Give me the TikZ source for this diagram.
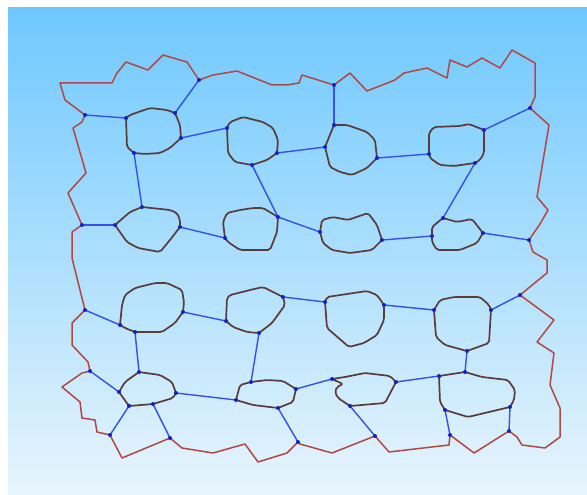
\documentclass[tikz,border=0pt]{standalone}
\usetikzlibrary{calc}
\definecolor{bgtop}{RGB}{110,200,254}
\definecolor{bgbot}{RGB}{232,245,253}
\definecolor{bnd}{RGB}{180,70,70}
\definecolor{cellc}{RGB}{90,58,58}
\definecolor{edgec}{RGB}{55,80,235}
\definecolor{dotc}{RGB}{20,35,200}
\tikzset{
  boundary/.style={draw=bnd, line width=1.5pt, line join=round},
  cellline/.style={draw=cellc, line width=1.7pt, line join=round, rounded corners=2pt},
  edgeline/.style={draw=edgec, line width=1.4pt},
  junction/.style={fill=dotc}
}
\begin{document}
\begin{tikzpicture}[x=1pt,y=-1pt]
\useasboundingbox (0,0) rectangle (587,495);
\fill[white] (0,0) rectangle (587,495);
\shade[top color=bgtop, bottom color=bgbot] (8,8) rectangle (587,495);

% boundary junctions
\coordinate (b1) at (85,115);
\coordinate (b2) at (199,80);
\coordinate (b3) at (334,85);
\coordinate (b4) at (530,108);
\coordinate (b5) at (82,225);
\coordinate (b6) at (529,240);
\coordinate (b7) at (85,310);
\coordinate (b8) at (520,295);
\coordinate (b9) at (90,371);
\coordinate (b10) at (110,435);
\coordinate (b11) at (170,438);
\coordinate (b12) at (298,442);
\coordinate (b13) at (375,436);
\coordinate (b14) at (450,435);
\coordinate (b15) at (509,431);
% cell junctions
\coordinate (a1) at (126,118); \coordinate (a2) at (175,113); \coordinate (a3) at (181,138); \coordinate (a4) at (134,153);
\coordinate (bb1) at (227,128); \coordinate (bb2) at (277,153); \coordinate (bb3) at (252,165);
\coordinate (c1) at (334,125); \coordinate (c2) at (325,147); \coordinate (c3) at (377,158);
\coordinate (d1) at (429,154); \coordinate (d2) at (484,130); \coordinate (d3) at (475,163);
\coordinate (e1) at (115,225); \coordinate (e2) at (142,207); \coordinate (e3) at (180,227);
\coordinate (f1) at (225,238); \coordinate (f2) at (278,217);
\coordinate (g1) at (320,232); \coordinate (g2) at (382,240);
\coordinate (h1) at (432,236); \coordinate (h2) at (443,218); \coordinate (h3) at (483,233);
\coordinate (i1) at (120,325); \coordinate (i2) at (183,312); \coordinate (i3) at (135,332);
\coordinate (j1) at (226,321); \coordinate (j2) at (283,297); \coordinate (j3) at (259,333);
\coordinate (k1) at (325,302); \coordinate (k2) at (384,305);
\coordinate (l1) at (434,310); \coordinate (l2) at (491,310); \coordinate (l3) at (467,351);
\coordinate (m1) at (119,392); \coordinate (m2) at (139,372); \coordinate (m3) at (176,393); \coordinate (m4) at (153,404); \coordinate (m5) at (129,406);
\coordinate (n1) at (236,400); \coordinate (n2) at (251,382); \coordinate (n3) at (296,389); \coordinate (n4) at (278,408);
\coordinate (o1) at (332,379); \coordinate (o2) at (396,382); \coordinate (o3) at (350,406);
\coordinate (p1) at (439,376); \coordinate (p2) at (465,372); \coordinate (p3) at (510,407); \coordinate (p4) at (445,410);

% outer boundary
\draw[boundary] (60,83) -- (112,83) -- (117,73) -- (126,62) -- (148,70) -- (163,55) -- (187,62) -- (b2)
 -- (213,75) -- (237,71) -- (272,85) -- (287,85) -- (299,83) -- (302,75) -- (b3)
 -- (350,73) -- (367,91) -- (395,80) -- (404,73) -- (427,68) -- (447,78) -- (450,60) -- (467,67)
 -- (482,58) -- (500,68) -- (512,50) -- (535,63) -- (535,97) -- (b4)
 -- (549,125) -- (537,197) -- (548,210) -- (540,224) -- (b6)
 -- (533,252) -- (547,260) -- (547,273) -- (b8)
 -- (554,320) -- (537,342) -- (554,353) -- (550,385) -- (560,408) -- (560,437) -- (545,448) -- (522,445) -- (517,437) -- (b15)
 -- (474,453) -- (b14) -- (449,445) -- (389,452) -- (b13) -- (332,453) -- (300,444) -- (b12)
 -- (287,453) -- (258,462) -- (245,444) -- (213,453) -- (182,448) -- (b11) -- (122,458) -- (b10)
 -- (97,432) -- (95,420) -- (82,418) -- (80,402) -- (62,387) -- (82,373) -- (b9)
 -- (88,362) -- (72,345) -- (72,323) -- (b7) -- (72,258) -- (72,232) -- (b5)
 -- (68,193) -- (86,173) -- (73,128) -- (82,122) -- (b1) -- (65,100) -- cycle;

% cells
\draw[cellline] (a1) -- (130,115) -- (150,108) -- (167,110) -- (a2) -- (180,125) -- (a3) -- (170,148) -- (160,153) -- (145,154) -- (a4) -- (127,147) -- cycle;
\draw[cellline] (bb1) -- (230,122) -- (243,117) -- (263,122) -- (273,128) -- (278,140) -- (bb2) -- (267,160) -- (bb3) -- (235,162) -- (228,153) -- cycle;
\draw[cellline] (c1) -- (347,125) -- (367,132) -- (375,140) -- (c3) -- (367,168) -- (352,175) -- (340,172) -- (330,167) -- (c2) -- cycle;
\draw[cellline] (d1) -- (429,133) -- (434,127) -- (460,126) -- (469,124) -- (d2) -- (484,153) -- (480,160) -- (d3) -- (454,166) -- (440,165) -- (430,158) -- cycle;
\draw[cellline] (e1) -- (130,212) -- (e2) -- (170,210) -- (177,213) -- (180,220) -- (e3) -- (170,240) -- (160,252) -- (138,248) -- (127,242) -- cycle;
\draw[cellline] (f1) -- (223,222) -- (227,213) -- (240,210) -- (253,208) -- (263,208) -- (f2) -- (277,232) -- (270,250) -- (240,250) -- (228,242) -- cycle;
\draw[cellline] (g1) -- (322,220) -- (333,217) -- (348,220) -- (368,213) -- (377,225) -- (g2) -- (372,250) -- (350,253) -- (332,250) -- (323,243) -- cycle;
\draw[cellline] (h1) -- (432,227) -- (h2) -- (457,222) -- (472,219) -- (h3) -- (477,243) -- (460,250) -- (437,250) -- (432,242) -- cycle;
\draw[cellline] (i1) -- (122,305) -- (125,295) -- (135,288) -- (155,283) -- (167,283) -- (182,290) -- (184,302) -- (i2) -- (175,323) -- (162,332) -- (143,332) -- (i3) -- (125,328) -- cycle;
\draw[cellline] (j1) -- (227,298) -- (230,295) -- (250,290) -- (263,287) -- (j2) -- (285,305) -- (272,323) -- (j3) -- (247,332) -- (233,327) -- cycle;
\draw[cellline] (k1) -- (327,297) -- (347,294) -- (367,291) -- (377,295) -- (k2) -- (384,320) -- (377,335) -- (364,343) -- (349,347) -- (327,328) -- cycle;
\draw[cellline] (l1) -- (440,300) -- (454,297) -- (480,297) -- (489,305) -- (l2) -- (489,343) -- (l3) -- (445,345) -- (436,337) -- cycle;
\draw[cellline] (m1) -- (125,382) -- (m2) -- (160,375) -- (172,382) -- (m3) -- (173,398) -- (m4) -- (m5) -- cycle;
\draw[cellline] (n1) -- (240,385) -- (n2) -- (267,380) -- (283,381) -- (n3) -- (293,402) -- (n4) -- (253,405) -- cycle;
\draw[cellline] (o1) -- (343,384) -- (337,387) -- (335,392) -- (338,398) -- (o3) -- (385,403) -- (o2) -- (390,376) -- (365,373) -- (345,377) -- cycle;
\draw[cellline] (p1) -- (p2) -- (482,377) -- (508,380) -- (515,390) -- (514,400) -- (p3) -- (468,417) -- (p4) -- (440,402) -- cycle;

% connectors
\foreach \u/\v in {b1/a1, b2/a2, a3/bb1, a4/e2, bb2/c2, bb3/f2, b3/c1, c3/d1, d2/b4, d3/h2,
  b5/e1, e3/f1, f2/g1, g2/h1, h3/b6,
  b7/i1, i2/j1, i3/m2, j2/k1, j3/n2, k2/l1, l2/b8, l3/p2,
  b9/m1, m3/n1, m5/b10, m4/b11, n3/o1, n4/b12, o2/p1, o3/b13, p4/b14, p3/b15}
  \draw[edgeline] (\u) -- (\v);

% junction dots
\foreach \p in {b1,b2,b3,b4,b5,b6,b7,b8,b9,b10,b11,b12,b13,b14,b15,
  a1,a2,a3,a4,bb1,bb2,bb3,c1,c2,c3,d1,d2,d3,e1,e2,e3,f1,f2,g1,g2,h1,h2,h3,
  i1,i2,i3,j1,j2,j3,k1,k2,l1,l2,l3,m1,m2,m3,m4,m5,n1,n2,n3,n4,o1,o2,o3,p1,p2,p3,p4}
  \fill[junction] (\p) circle (2);
\end{tikzpicture}
\end{document}
